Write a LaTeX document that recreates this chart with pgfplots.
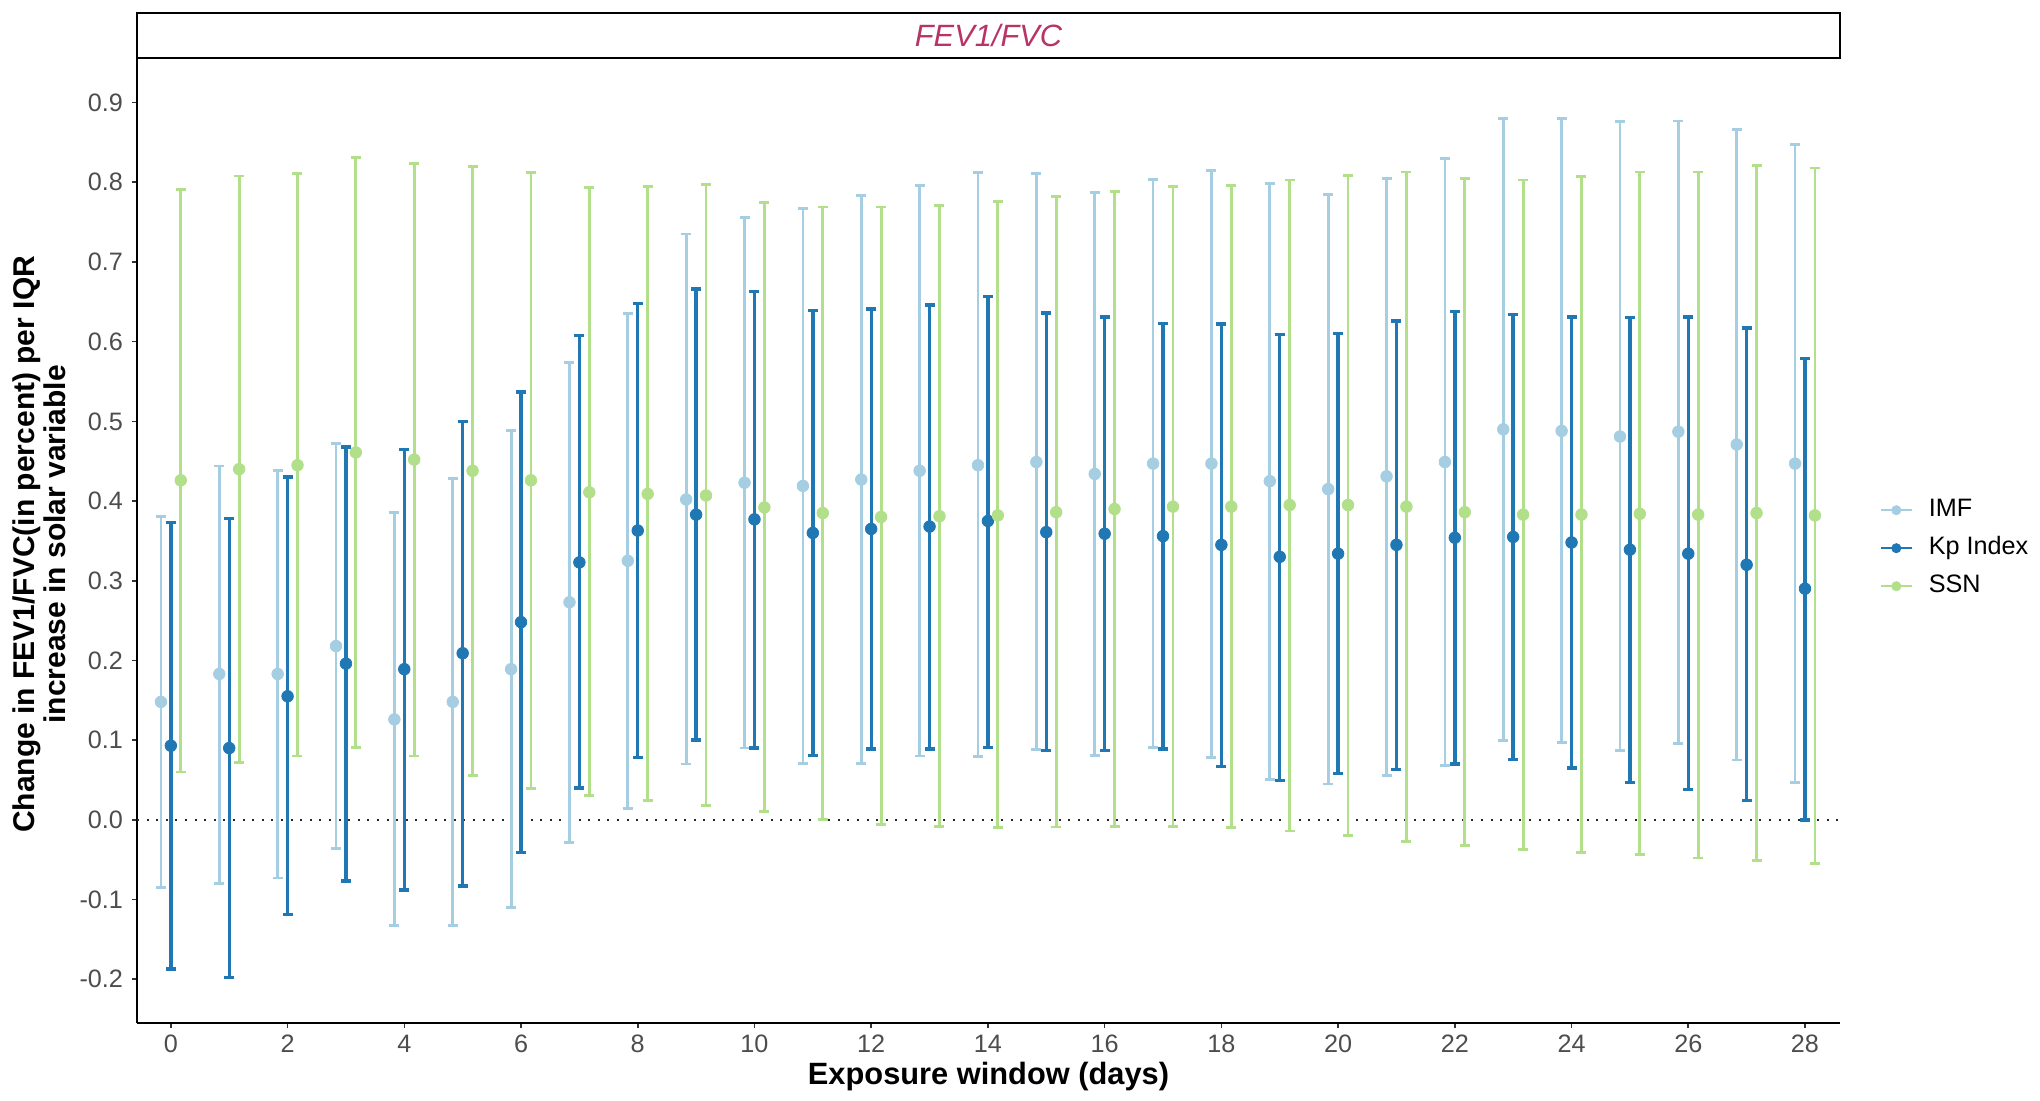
\documentclass[border=0pt]{standalone}
\usepackage{fontspec}
\setmainfont{Liberation Sans}
\usepackage{pgfplots}
\pgfplotsset{compat=1.18}
\usepackage{pgfplotstable}
\definecolor{imf}{HTML}{A6CEE3}
\definecolor{kp}{HTML}{1F78B4}
\definecolor{ssn}{HTML}{B2DF8A}
\definecolor{stripc}{HTML}{B83366}
\definecolor{tickc}{HTML}{4D4D4D}

\pgfplotstableread{
x y lo hi
0 0.148 -0.085 0.381
1 0.183 -0.080 0.444
2 0.183 -0.073 0.438
3 0.218 -0.036 0.472
4 0.126 -0.133 0.386
5 0.148 -0.133 0.428
6 0.189 -0.110 0.489
7 0.273 -0.028 0.574
8 0.325 0.014 0.635
9 0.402 0.070 0.735
10 0.423 0.090 0.756
11 0.419 0.071 0.767
12 0.427 0.071 0.783
13 0.438 0.080 0.796
14 0.445 0.079 0.812
15 0.449 0.088 0.811
16 0.434 0.081 0.787
17 0.447 0.091 0.804
18 0.447 0.078 0.815
19 0.425 0.051 0.798
20 0.415 0.045 0.785
21 0.431 0.056 0.805
22 0.449 0.068 0.830
23 0.490 0.100 0.880
24 0.488 0.097 0.880
25 0.481 0.087 0.876
26 0.487 0.096 0.877
27 0.471 0.075 0.866
28 0.447 0.047 0.847
}\imftab

\pgfplotstableread{
x y lo hi
0 0.093 -0.187 0.373
1 0.090 -0.198 0.378
2 0.155 -0.119 0.430
3 0.196 -0.077 0.468
4 0.189 -0.088 0.465
5 0.209 -0.083 0.500
6 0.248 -0.041 0.537
7 0.323 0.040 0.608
8 0.363 0.078 0.648
9 0.383 0.100 0.666
10 0.377 0.090 0.663
11 0.360 0.081 0.639
12 0.365 0.089 0.641
13 0.368 0.089 0.646
14 0.375 0.091 0.657
15 0.361 0.087 0.636
16 0.359 0.087 0.631
17 0.356 0.089 0.623
18 0.345 0.067 0.622
19 0.330 0.049 0.609
20 0.334 0.058 0.610
21 0.345 0.063 0.626
22 0.354 0.070 0.638
23 0.355 0.076 0.634
24 0.348 0.065 0.631
25 0.339 0.047 0.630
26 0.334 0.038 0.631
27 0.320 0.024 0.617
28 0.290 0.000 0.579
}\kptab

\pgfplotstableread{
x y lo hi
0 0.426 0.060 0.791
1 0.440 0.072 0.808
2 0.445 0.080 0.811
3 0.461 0.091 0.831
4 0.452 0.080 0.824
5 0.438 0.056 0.820
6 0.426 0.039 0.812
7 0.411 0.030 0.793
8 0.409 0.024 0.795
9 0.407 0.018 0.797
10 0.392 0.010 0.775
11 0.385 0.000 0.769
12 0.380 -0.006 0.769
13 0.381 -0.008 0.771
14 0.382 -0.010 0.776
15 0.386 -0.009 0.782
16 0.390 -0.008 0.788
17 0.393 -0.008 0.795
18 0.393 -0.010 0.796
19 0.395 -0.014 0.803
20 0.395 -0.020 0.809
21 0.393 -0.027 0.813
22 0.386 -0.032 0.805
23 0.383 -0.037 0.803
24 0.383 -0.041 0.807
25 0.384 -0.044 0.813
26 0.383 -0.048 0.813
27 0.385 -0.051 0.821
28 0.382 -0.055 0.818
}\ssntab

\begin{document}
\begin{tikzpicture}
\useasboundingbox (-68.5pt,-38.5pt) rectangle (951.5pt,511.5pt);
\begin{axis}[
  at={(0pt,0pt)}, anchor=south west,
  scale only axis,
  width=851.5pt, height=482.5pt,
  xmin=-0.58, xmax=28.6,
  ymin=-0.255, ymax=0.956,
  axis x line=bottom, axis y line=left,
  axis line style={-, line width=1pt, black},
  xtick={0,2,...,28},
  ytick={-0.2,-0.1,0,0.1,0.2,0.3,0.4,0.5,0.6,0.7,0.8,0.9},
  yticklabels={-0.2,-0.1,0.0,0.1,0.2,0.3,0.4,0.5,0.6,0.7,0.8,0.9},
  tick align=outside,
  major tick length=2.5pt,
  tick style={line width=0.8pt, black!80},
  /pgf/number format/assume math mode=true,
  ticklabel style={font=\fontsize{12.6}{14}\selectfont, text=tickc},
  yticklabel style={xshift=-1pt},
  xlabel={Exposure window (days)},
  every axis x label/.style={at={(axis description cs:0.5,0)}, yshift=-27pt, anchor=center, font=\bfseries\fontsize{15.4}{17}\selectfont},
  ylabel={Change in FEV1/FVC(in percent) per IQR\\increase in solar variable},
  every axis y label/.style={at={(axis description cs:0,0.496)}, xshift=-49pt, rotate=90, anchor=center},
  ylabel style={align=center, font=\bfseries\fontsize{15}{15.6}\selectfont},
  clip=false,
]
\addplot[black!85, line width=1pt, dash pattern=on 1pt off 3.8pt, forget plot] coordinates {(-0.58,0) (28.6,0)};

\addplot[only marks, mark=*, mark size=2.9pt, color=imf,
  error bars/.cd, y dir=both, y explicit,
  error bar style={line width=1.4pt, imf},
  error mark=-,
  error mark options={rotate=90, mark size=2.5pt, line width=1.4pt, imf},
  ] table[x expr=\thisrow{x}-0.17, y=y, y error plus expr=\thisrow{hi}-\thisrow{y}, y error minus expr=\thisrow{y}-\thisrow{lo}] {\imftab};
\addplot[only marks, mark=*, mark size=2.9pt, color=kp,
  error bars/.cd, y dir=both, y explicit,
  error bar style={line width=1.7pt, kp},
  error mark=-,
  error mark options={rotate=90, mark size=2.5pt, line width=1.7pt, kp},
  ] table[x=x, y=y, y error plus expr=\thisrow{hi}-\thisrow{y}, y error minus expr=\thisrow{y}-\thisrow{lo}] {\kptab};
\addplot[only marks, mark=*, mark size=2.9pt, color=ssn,
  error bars/.cd, y dir=both, y explicit,
  error bar style={line width=1.4pt, ssn},
  error mark=-,
  error mark options={rotate=90, mark size=2.5pt, line width=1.4pt, ssn},
  ] table[x expr=\thisrow{x}+0.17, y=y, y error plus expr=\thisrow{hi}-\thisrow{y}, y error minus expr=\thisrow{y}-\thisrow{lo}] {\ssntab};
\end{axis}
\begin{axis}[
  at={(0pt,0pt)}, anchor=south west,
  scale only axis, width=851.5pt, height=482.5pt,
  xmin=0, xmax=1, ymin=0, ymax=1,
  hide axis,
  legend style={at={(axis description cs:1.0196,0.492)}, anchor=west, draw=none, fill=none,
    font=\fontsize{12.6}{14}\selectfont, row sep=7.5pt,
    nodes={inner sep=0pt, text height=9pt, text depth=2.5pt, anchor=west},
    /tikz/every odd column/.append style={column sep=8pt}},
  legend cell align=left,
]
\addlegendimage{legend image code/.code={\draw[imf, line width=1pt] (0pt,0pt) -- (15.5pt,0pt); \fill[imf] (7.75pt,0pt) circle (2.3pt);}}
\addlegendentry{IMF}
\addlegendimage{legend image code/.code={\draw[kp, line width=1pt] (0pt,0pt) -- (15.5pt,0pt); \fill[kp] (7.75pt,0pt) circle (2.3pt);}}
\addlegendentry{Kp Index}
\addlegendimage{legend image code/.code={\draw[ssn, line width=1pt] (0pt,0pt) -- (15.5pt,0pt); \fill[ssn] (7.75pt,0pt) circle (2.3pt);}}
\addlegendentry{SSN}
\end{axis}
\draw[line width=0.8pt, black] (0pt,482.5pt) rectangle (851.5pt,505pt);
\node[font=\itshape\fontsize{15.4}{17}\selectfont, text=stripc] at (425.75pt,493.75pt) {FEV1/FVC};
\end{tikzpicture}
\end{document}
